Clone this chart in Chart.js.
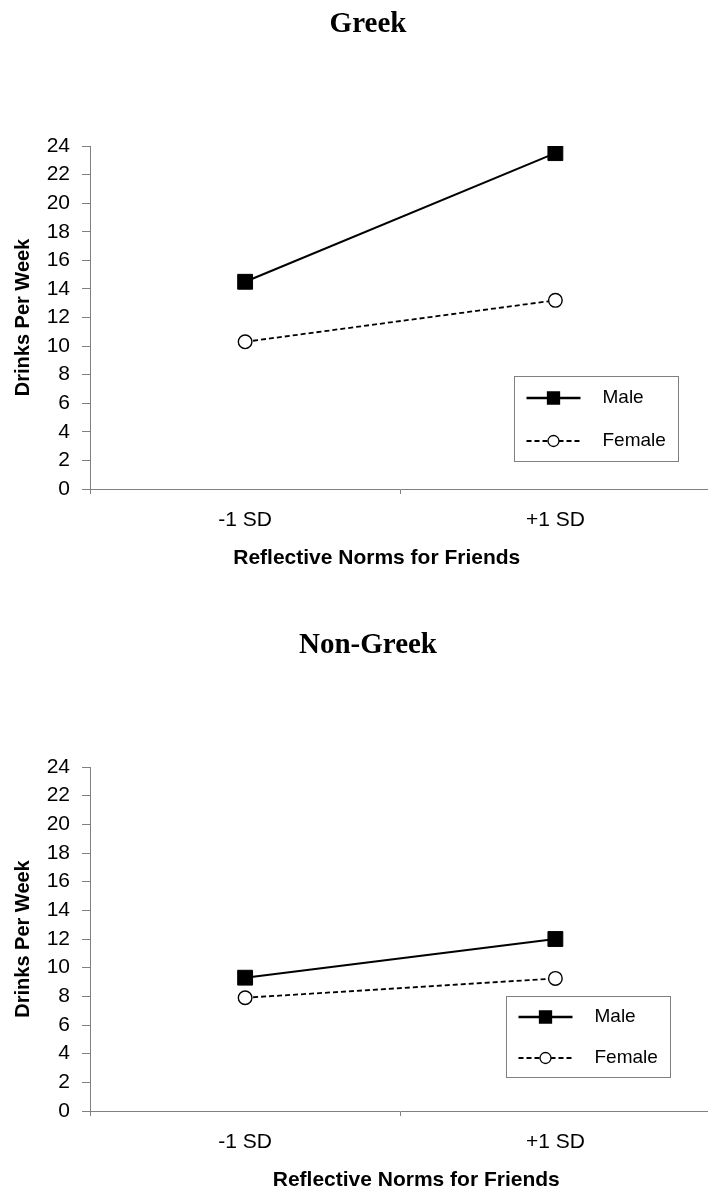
<!DOCTYPE html>
<html>
<head>
<meta charset="utf-8">
<script src="https://cdn.jsdelivr.net/npm/chart.js@4/dist/chart.umd.min.js"></script>
<style>
  html, body { margin: 0; padding: 0; background: #fff; overflow: hidden; }
  canvas { display: block; }
</style>
</head>
<body>
<canvas id="greek" width="722" height="597"></canvas>
<canvas id="nongreek" width="722" height="596"></canvas>
<script>
// data
const LEVELS = ['-1 SD', '+1 SD'];
const SERIES = ['Male', 'Female'];
const GREEK_MALE = [14.5, 23.5];
const GREEK_FEMALE = [10.3, 13.2];
const NONGREEK_MALE = [9.3, 12.0];
const NONGREEK_FEMALE = [7.9, 9.25];
const Y_MIN = 0, Y_MAX = 24, Y_STEP = 2;

const SANS = '"Liberation Sans", Arial, sans-serif';
const SERIF = '"Liberation Serif", "Times New Roman", serif';
const AXIS_GREY = '#808080';

Chart.defaults.font.family = SANS;
Chart.defaults.color = '#000';

// x axis title, drawn by hand because it sits off-centre in the original
const axisTitleX = {
    id: 'axisTitleX',
    afterDraw(chart, args, opts) {
        const {ctx, chartArea} = chart;
        ctx.save();
        ctx.font = 'bold 21px ' + SANS;
        ctx.fillStyle = '#000';
        ctx.textAlign = 'center';
        ctx.textBaseline = 'middle';
        ctx.fillText(opts.text, (chartArea.left + chartArea.right) / 2 + opts.dx, chartArea.bottom + opts.dy);
        ctx.restore();
    }
};

// boxed legend inside the plot, line + marker samples
const boxLegend = {
    id: 'boxLegend',
    afterDraw(chart, args, opts) {
        const {ctx, chartArea} = chart;
        const x = chartArea.right - opts.right - opts.width;
        const y = chartArea.bottom - opts.bottom - opts.height;
        ctx.save();
        ctx.fillStyle = '#fff';
        ctx.fillRect(x, y, opts.width, opts.height);
        ctx.strokeStyle = AXIS_GREY;
        ctx.lineWidth = 1;
        ctx.strokeRect(Math.round(x) + 0.5, Math.round(y) + 0.5, opts.width, opts.height);
        const rows = [0.26, 0.76];
        chart.data.datasets.forEach((ds, i) => {
            const ry = Math.round(y + opts.height * rows[i]);
            ctx.strokeStyle = ds.borderColor;
            ctx.lineWidth = ds.borderWidth + 0.4;
            ctx.setLineDash(ds.borderDash || []);
            ctx.beginPath();
            ctx.moveTo(x + 13, ry);
            ctx.lineTo(x + 67, ry);
            ctx.stroke();
            ctx.setLineDash([]);
            const mx = x + 40;
            ctx.fillStyle = ds.pointBackgroundColor;
            ctx.strokeStyle = ds.pointBorderColor;
            ctx.lineWidth = 1.3;
            ctx.beginPath();
            if (ds.pointStyle === 'rect') {
                ctx.rect(mx - 6, ry - 6, 12, 12);
            } else {
                ctx.arc(mx, ry, 5.5, 0, Math.PI * 2);
            }
            ctx.fill();
            ctx.stroke();
            ctx.fillStyle = '#000';
            ctx.font = '19px ' + SANS;
            ctx.textAlign = 'left';
            ctx.textBaseline = 'middle';
            ctx.fillText(ds.label, x + 89, ry);
        });
        ctx.restore();
    }
};

function makeChart(id, title, male, female, look) {
    return new Chart(document.getElementById(id).getContext('2d'), {
        type: 'line',
        data: {
            labels: LEVELS,
            datasets: [{
                label: SERIES[0],
                data: male,
                borderColor: '#000',
                borderWidth: 2,
                pointStyle: 'rect',
                pointRadius: 10.5,
                pointBackgroundColor: '#000',
                pointBorderColor: '#000',
                pointBorderWidth: 1,
            }, {
                label: SERIES[1],
                data: female,
                borderColor: '#000',
                borderWidth: 1.8,
                borderDash: [5, 3],
                pointStyle: 'circle',
                pointRadius: 6.8,
                pointBackgroundColor: '#fff',
                pointBorderColor: '#000',
                pointBorderWidth: 1.4,
            }],
        },
        options: {
            responsive: false,
            animation: false,
            layout: { padding: { left: 24, right: 10, top: 0, bottom: 0 } },
            plugins: {
                legend: { display: false },
                tooltip: { enabled: false },
                title: {
                    display: true,
                    text: title,
                    color: '#000',
                    font: { family: SERIF, size: 29, weight: 'bold' },
                    padding: { top: look.titleTop, bottom: look.titleBottom },
                },
                axisTitleX: { text: 'Reflective Norms for Friends', dx: look.xTitleDx, dy: 69 },
                boxLegend: look.legend,
            },
            scales: {
                x: {
                    offset: true,
                    grid: { offset: true, drawOnChartArea: false, drawTicks: true, tickLength: 5, color: AXIS_GREY },
                    border: { color: AXIS_GREY, width: 1 },
                    ticks: { color: '#000', font: { size: 21 }, padding: 14 },
                    afterFit(scale) { scale.height = look.xHeight; },
                },
                y: {
                    min: Y_MIN,
                    max: Y_MAX,
                    ticks: { stepSize: Y_STEP, color: '#000', font: { size: 21 }, padding: 12 },
                    grid: { drawOnChartArea: false, tickLength: 8, color: AXIS_GREY },
                    border: { color: AXIS_GREY, width: 1 },
                    title: {
                        display: true,
                        text: 'Drinks Per Week',
                        color: '#000',
                        font: { size: 20, weight: 'bold' },
                        padding: { top: -13, bottom: 0 },
                    },
                    afterFit(scale) { scale.width = 66; },
                },
            },
        },
        plugins: [axisTitleX, boxLegend],
    });
}

makeChart('greek', 'Greek', GREEK_MALE, GREEK_FEMALE, {
    titleTop: 7.6, titleBottom: 103.6, xHeight: 108, xTitleDx: -23.5,
    legend: { right: 33, bottom: 28, width: 164, height: 85 },
});
makeChart('nongreek', 'Non-Greek', NONGREEK_MALE, NONGREEK_FEMALE, {
    titleTop: 31.6, titleBottom: 103.6, xHeight: 82, xTitleDx: 16,
    legend: { right: 41, bottom: 34, width: 164, height: 81 },
});
</script>
</body>
</html>
